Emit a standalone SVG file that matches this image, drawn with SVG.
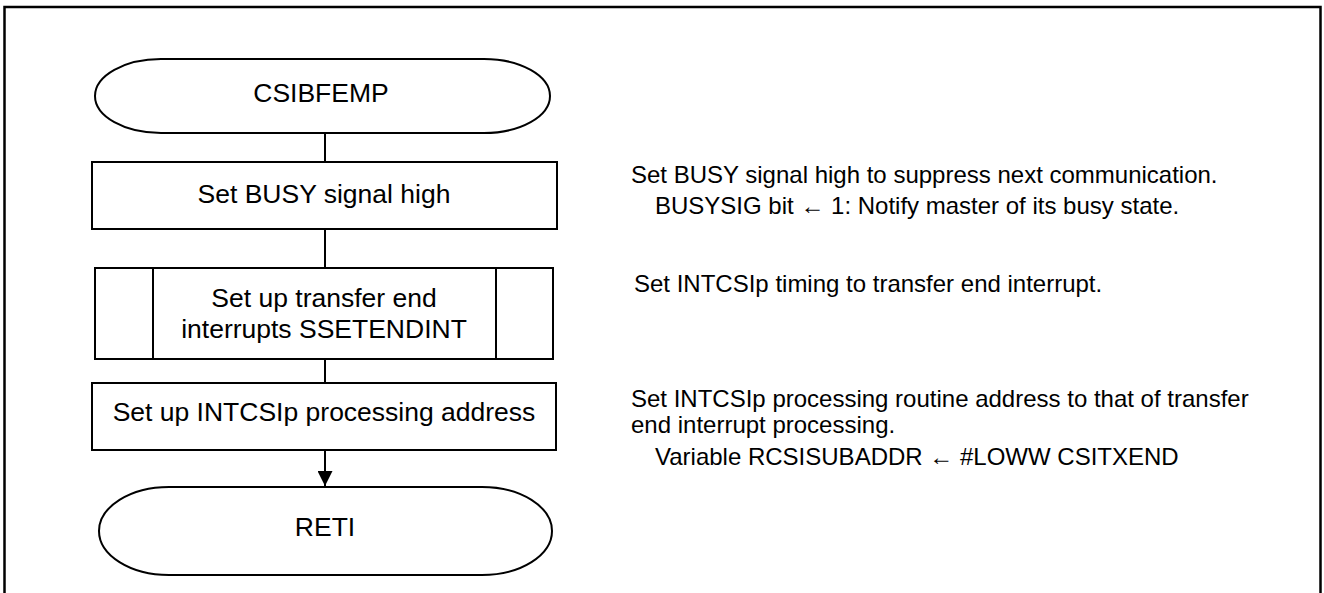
<svg xmlns="http://www.w3.org/2000/svg" width="1324" height="593" viewBox="0 0 1324 593">
<style>
.shape{fill:#fff;stroke:#000;stroke-width:2}
.lbl{font-family:"Liberation Sans",Arial,sans-serif;font-size:26.5px;fill:#000;text-anchor:middle}
.note{font-family:"Liberation Sans",Arial,"DejaVu Sans",sans-serif;font-size:24px;fill:#000}
.conn{stroke:#000;stroke-width:2;fill:none}
</style>
<defs>
<marker id="arr" markerWidth="15" markerHeight="15" refX="15" refY="7.5" orient="auto" markerUnits="userSpaceOnUse">
<path d="M0,0 L15,7.5 L0,15 Z" fill="#000"/>
</marker>
</defs>
<rect width="1324" height="593" fill="#fff"/>
<path d="M4.5,600 V7 H1320.5 V600" fill="none" stroke="#000" stroke-width="2.5"/>
<g id="connectors">
<line class="conn" x1="325" y1="133" x2="325" y2="162"/>
<line class="conn" x1="325" y1="229" x2="325" y2="268"/>
<line class="conn" x1="325" y1="359" x2="325" y2="383"/>
<line class="conn" x1="325" y1="450" x2="325" y2="486" marker-end="url(#arr)"/>
</g>
<g id="start">
<rect class="shape" x="95" y="59" width="455" height="74" rx="66" ry="37"/>
<text class="lbl" x="321" y="102">CSIBFEMP</text>
</g>
<g id="busy">
<rect class="shape" x="92" y="162" width="465" height="67"/>
<text class="lbl" x="324" y="203">Set BUSY signal high</text>
</g>
<g id="sub">
<rect class="shape" x="95" y="268" width="458" height="91"/>
<line class="conn" x1="153" y1="268" x2="153" y2="359"/>
<line class="conn" x1="496" y1="268" x2="496" y2="359"/>
<text class="lbl" x="324" y="307">Set up transfer end</text>
<text class="lbl" x="324" y="338">interrupts SSETENDINT</text>
</g>
<g id="addr">
<rect class="shape" x="92" y="383" width="464" height="67"/>
<text class="lbl" x="324" y="421">Set up INTCSIp processing address</text>
</g>
<g id="end">
<rect class="shape" x="99" y="487" width="453" height="88" rx="70" ry="44"/>
<text class="lbl" x="325" y="536">RETI</text>
</g>
<g id="notes">
<text class="note" x="631" y="183">Set BUSY signal high to suppress next communication.</text>
<text class="note" x="655" y="214">BUSYSIG bit ← 1: Notify master of its busy state.</text>
<text class="note" x="634" y="292">Set INTCSIp timing to transfer end interrupt.</text>
<text class="note" x="631" y="407">Set INTCSIp processing routine address to that of transfer</text>
<text class="note" x="631" y="433">end interrupt processing.</text>
<text class="note" x="655" y="465">Variable RCSISUBADDR ← #LOWW CSITXEND</text>
</g>
</svg>
